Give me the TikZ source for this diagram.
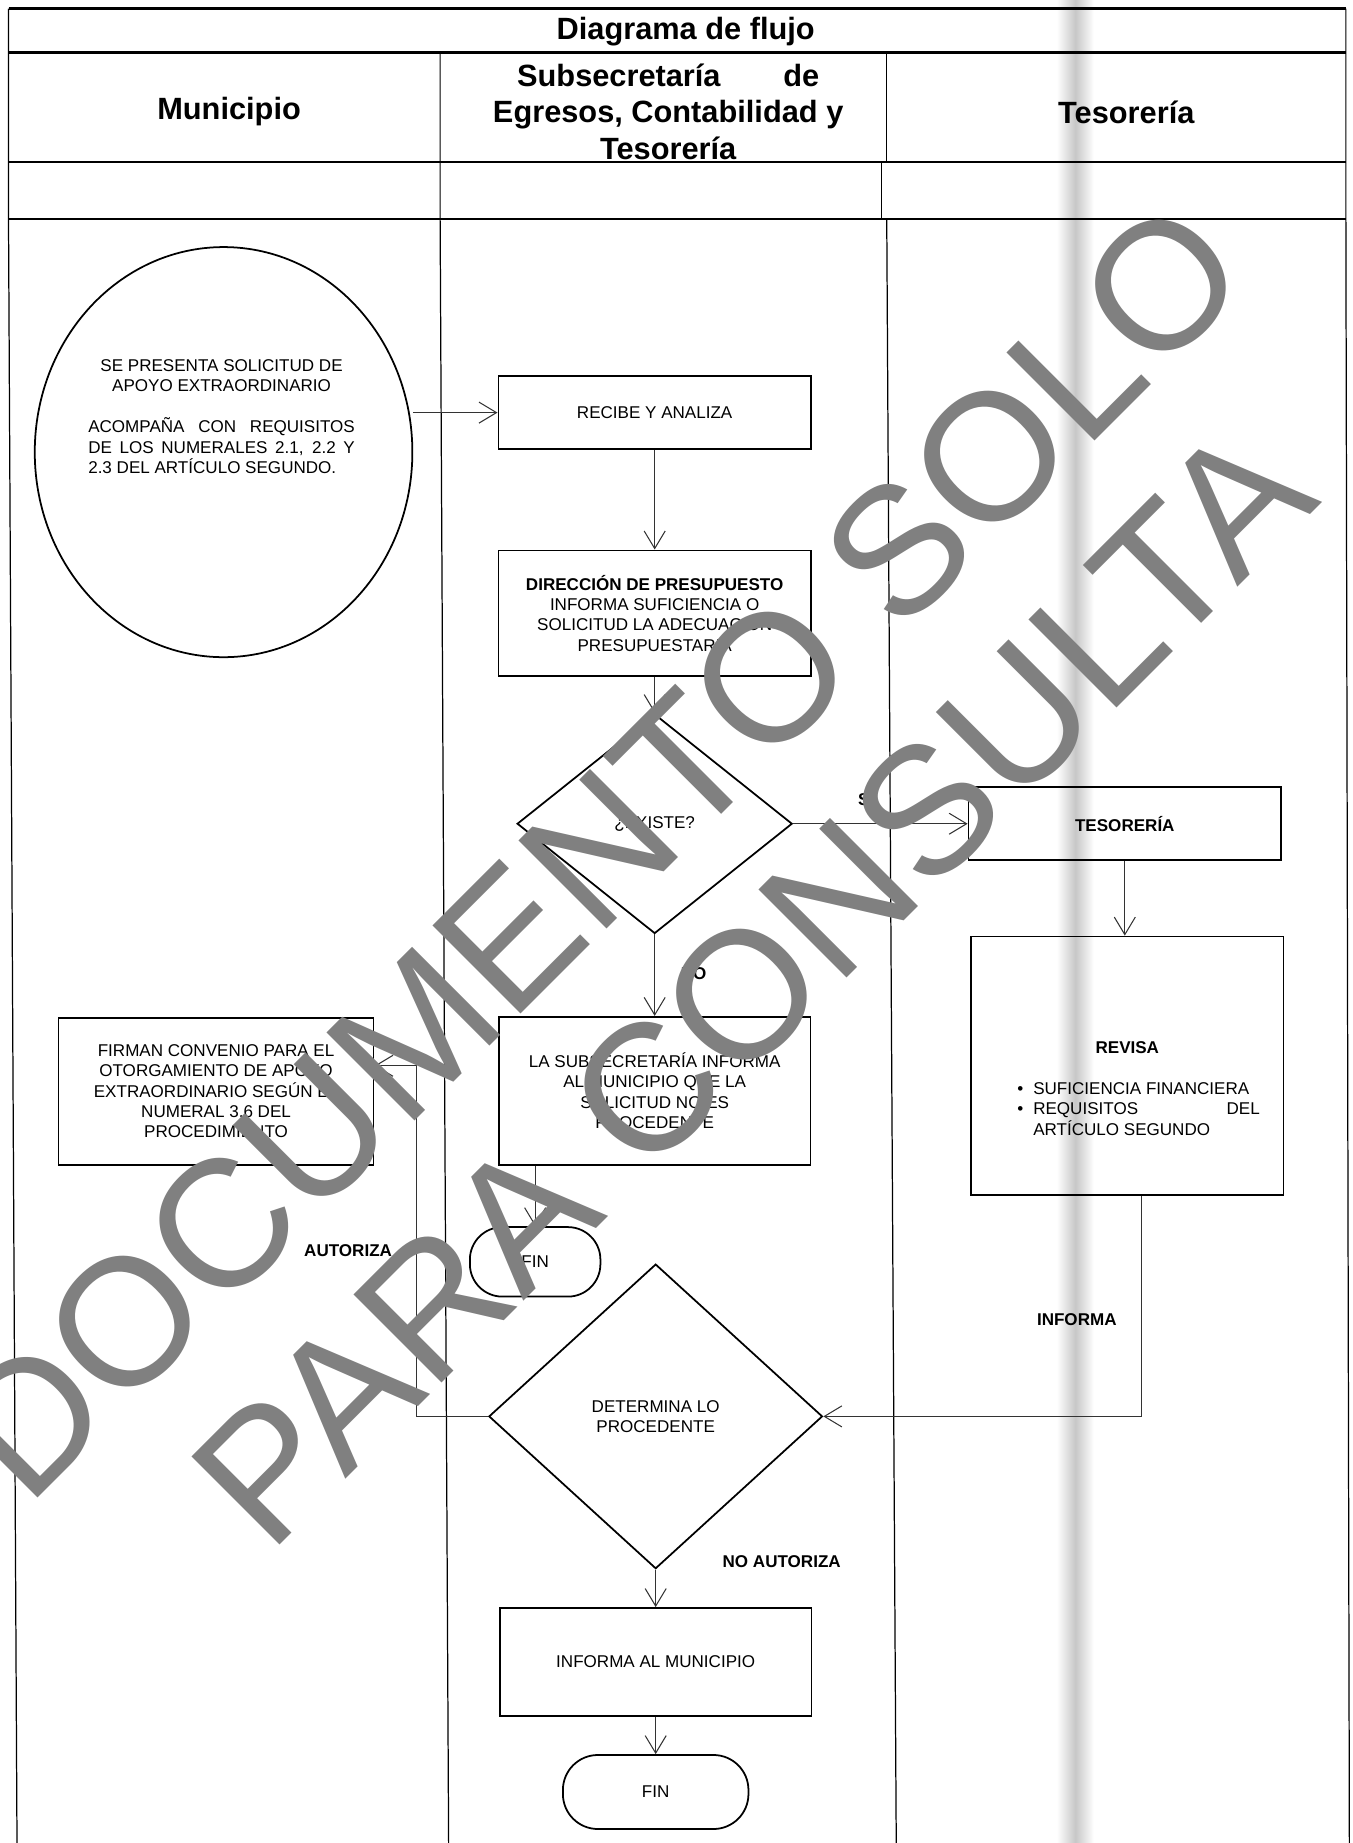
\documentclass[tikz,border=0pt]{standalone}
\usepackage{fontspec}
\setmainfont{Liberation Sans}
\usepackage{tikz}
\usetikzlibrary{shapes.geometric, arrows.meta}

\begin{document}
\begin{tikzpicture}[
  every node/.style={font=\fontsize{9.7}{11.6}\selectfont},
  caja/.style={draw, line width=1pt, minimum width=6.25cm, align=center, inner sep=2pt},
  rombo/.style={draw, diamond, line width=1pt, inner sep=0pt, align=center},
  fin/.style={draw, line width=1pt, rounded corners=0.65cm, align=center},
  flecha/.style={draw=black!80, line width=0.6pt, -{Straight Barb[length=3.5mm,width=4.2mm]}},
  cab/.style={font=\fontsize{17.5}{20.7}\selectfont\bfseries, align=center},
  marca/.style={text=black!50, font=\fontsize{103}{103}\selectfont, rotate=45, inner sep=0pt}
]
\useasboundingbox (0,0) rectangle (27.05,-36.85);
\shade[left color=white, right color=white, middle color=black!22] (21.13,0) rectangle (21.87,-36.85);

% marco y carriles
\draw[line width=1.4pt] (0.17,-0.17) -- (26.91,-0.17);
\draw[line width=1.4pt] (0.17,-1.05) -- (26.91,-1.05);
\draw[line width=1.4pt] (0.17,-3.24) -- (26.91,-3.24);
\draw[line width=1.4pt] (0.17,-4.38) -- (26.91,-4.38);
\draw[line width=0.7pt] (0.17,-0.17) -- (0.17,-4.38) -- (0.34,-36.85);
\draw[line width=0.7pt] (26.91,-0.17) -- (26.91,-4.38) -- (26.98,-36.85);
\draw[line width=0.7pt] (8.80,-1.05) -- (8.80,-4.38) -- (8.97,-36.85);
\draw[line width=0.7pt] (17.73,-1.05) -- (17.73,-3.24);
\draw[line width=0.7pt] (17.63,-3.24) -- (17.63,-4.38);
\draw[line width=0.7pt] (17.73,-4.38) -- (17.92,-36.85);

\node[cab] (titulo) at (13.71,-0.64) {Diagrama de flujo};
\node[cab] (hmunicipio) at (4.58,-2.24) {Municipio};
\node[cab] (hsubse) at (13.36,-2.23) {\makebox[6.04cm]{Subsecretaría\hfill de}\\Egresos, Contabilidad y\\Tesorería};
\node[cab] (htesoreria) at (22.52,-2.24) {Tesorería};

% nodos
\node[draw, ellipse, line width=1pt, minimum width=7.55cm, minimum height=8.20cm, inner sep=0pt] (solicitud) at (4.47,-9.04) {};
\node[text width=5.33cm, align=justify] (solicitudtxt) at (4.43,-8.33) {{\centering SE PRESENTA SOLICITUD DE\\APOYO EXTRAORDINARIO\par}\vspace{0.42cm}ACOMPAÑA CON REQUISITOS\linebreak DE LOS NUMERALES 2.1, 2.2 Y\linebreak 2.3 DEL ARTÍCULO SEGUNDO.};

\node[caja, minimum height=1.46cm] (recibe) at (13.09,-8.25) {RECIBE Y ANALIZA};
\node[caja, minimum height=2.51cm] (direccion) at (13.09,-12.26) {\textbf{DIRECCIÓN DE PRESUPUESTO}\\INFORMA SUFICIENCIA O\\SOLICITUD LA ADECUACIÓN\\PRESUPUESTARIA};
\node[rombo, minimum width=5.50cm, minimum height=4.39cm] (existe) at (13.09,-16.47) {¿EXISTE?};
\node[caja, minimum height=1.46cm] (tesoreria) at (22.49,-16.47) {\textbf{TESORERÍA}};
\node[caja, minimum height=5.17cm] (revisa) at (22.54,-21.31) {};
\node[text width=5.9cm, align=justify] (revisatxt) at (22.54,-21.76) {{\centering\textbf{REVISA}\par}\vspace{0.42cm}
  \begin{list}{\textbullet}{\leftmargin=1.07cm \rightmargin=0.30cm \labelwidth=0.3cm \labelsep=0.2cm \itemsep=0pt \parsep=0pt \topsep=0pt \partopsep=0pt}
  \item SUFICIENCIA FINANCIERA
  \item REQUISITOS DEL\linebreak ARTÍCULO SEGUNDO
  \end{list}};
\node[caja, minimum width=6.23cm, minimum height=2.96cm] (subinforma) at (13.09,-21.81) {LA SUBSECRETARÍA INFORMA\\AL MUNICIPIO QUE LA\\SOLICITUD NO ES\\PROCEDENTE};
\node[fin, minimum width=2.61cm, minimum height=1.39cm] (fin1) at (10.70,-25.23) {FIN};
\node[rombo, minimum width=6.67cm, minimum height=6.09cm] (determina) at (13.11,-28.32) {DETERMINA LO\\PROCEDENTE};
\node[caja, minimum width=6.30cm, minimum height=2.94cm] (firman) at (4.32,-21.82) {FIRMAN CONVENIO PARA EL\\OTORGAMIENTO DE APOYO\\EXTRAORDINARIO SEGÚN EL\\NUMERAL 3.6 DEL\\PROCEDIMIENTO};
\node[caja, minimum width=6.23cm, minimum height=2.16cm] (infmun) at (13.11,-33.23) {INFORMA AL MUNICIPIO};
\node[fin, minimum width=3.71cm, minimum height=1.48cm, rounded corners=0.7cm] (fin2) at (13.11,-35.83) {FIN};
\coordinate (codo) at (8.32,-21.31);

% conectores
\draw[flecha] (solicitud.east |- recibe.west) -- (recibe.west);
\draw[flecha] (recibe.south) -- (direccion.north);
\draw[flecha] (direccion.south) -- (existe.north);
\draw[flecha] (existe.east) -- (tesoreria.west);
\draw[flecha] (tesoreria.south) -- (revisa.north -| tesoreria.south);
\draw[flecha] (existe.south) -- (subinforma.north);
\draw[flecha] (fin1.north |- subinforma.south) -- (fin1.north);
\draw[flecha] ([xshift=0.28cm]revisa.south) |- (determina.east);
\draw[flecha] (determina.west) -| (codo) -- (codo -| firman.east);
\draw[flecha] (determina.south) -- (infmun.north);
\draw[flecha] (infmun.south) -- (fin2.north);

\node (lsi) at (17.32,-15.98) {\textbf{SI}};
\node (lno) at (13.87,-19.46) {\textbf{NO}};
\node (lautoriza) at (6.96,-25.00) {\textbf{AUTORIZA}};
\node (linforma) at (21.53,-26.39) {\textbf{INFORMA}};
\node (lnoautoriza) at (15.63,-31.23) {\textbf{NO AUTORIZA}};

% marca de agua
\node[marca] (marca1) at (11.94,-17.00) {DOCUMENTO SOLO};
\node[marca] (marca2) at (15.04,-19.69) {PARA CONSULTA};
\end{tikzpicture}
\end{document}
